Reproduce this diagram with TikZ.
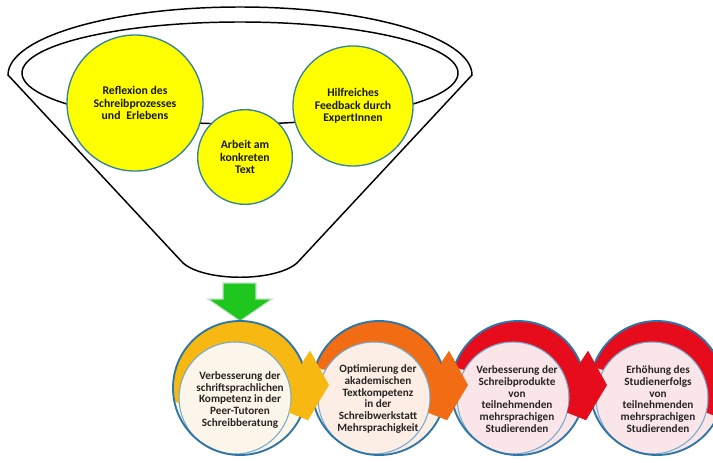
\documentclass[tikz,border=0pt]{standalone}
\usepackage{fontspec}
\setmainfont{Carlito}
\usetikzlibrary{calc}

\definecolor{yelfill}{RGB}{255,255,0}
\definecolor{tealline}{RGB}{49,132,155}
\definecolor{ringline}{RGB}{46,117,168}
\definecolor{creamline}{RGB}{120,170,205}
\definecolor{bandA}{RGB}{248,184,18}
\definecolor{bandB}{RGB}{241,108,18}
\definecolor{bandC}{RGB}{230,12,28}
\definecolor{creamA}{RGB}{252,246,234}
\definecolor{creamB}{RGB}{252,238,228}
\definecolor{creamC}{RGB}{250,230,232}
\definecolor{arrowgreen}{RGB}{30,198,30}
\definecolor{arrowedge}{RGB}{200,225,200}
\definecolor{topink}{RGB}{25,25,20}
\definecolor{stepink}{RGB}{40,36,36}

\tikzset{
  rim/.style={draw=black, line width=1.1pt},
  topcirc/.style={circle, fill=yelfill, draw=tealline, line width=1pt, inner sep=0pt,
    align=center, text=topink, font=\bfseries\fontsize{8.8}{9.6}\selectfont},
  steptext/.style={align=center, text=stepink, inner sep=0pt,
    font=\bfseries\fontsize{8.4}{8.8}\selectfont},
  ringedge/.style={draw=ringline, line width=1.4pt},
  creamedge/.style={draw=creamline, line width=0.8pt},
}

% one step of the process: cream disc, coloured band over its top, outlines
% #1 centre x, #2 band colour, #3 disc colour, #4 start angle of band, #5 start angle on inner disc
\newcommand{\ringstep}[5]{%
  \fill[#3] (#1,74) circle[radius=67];
  \fill[#2] ($(#1,74)+(#4:67)$) arc[start angle=#4, end angle=22, radius=67]
    -- (#1+70,111) -- (#1+89,77) -- (#1+68,42)
    -- ($(#1-5,64)+(-15:56)$) arc[start angle=-15, end angle=#5, radius=56] -- cycle;
  \draw[creamedge] (#1-5,64) circle[radius=56];
  \draw[ringedge] (#1,74) circle[radius=67];
}
% arrow head of a step, drawn over the neighbouring disc
\newcommand{\ringhead}[2]{%
  \fill[#2] (#1+62.1,99.1) -- (#1+70,111) -- (#1+89,77) -- (#1+68,42)
    -- (#1+49,49.5) -- cycle;
}

\begin{document}
\begin{tikzpicture}[x=0.75pt,y=0.75pt]
\useasboundingbox (0,0) rectangle (713,462);
\clip (0,0) rectangle (713,462);
\fill[white] (0,0) rectangle (713,462);

% funnel
\draw[rim] (472,387) arc[start angle=0, end angle=180, x radius=232, y radius=68]
  -- (183,199) .. controls (205,180) and (275,180) .. (297,199) -- cycle;
\draw[rim] (240,389) ellipse[x radius=218, y radius=51];

% inputs inside the funnel
\node[topcirc, minimum size=102pt] (refl) at (135,359) {Reflexion des\\Schreibprozesses\\und\enspace Erlebens};
\node[topcirc, minimum size=71pt] (arbeit) at (245,305) {Arbeit am\\konkreten\\Text};
\node[topcirc, minimum size=90pt] (feedback) at (353,356) {Hilfreiches\\Feedback durch\\ExpertInnen};

% arrow out of the funnel
\draw[fill=arrowgreen, draw=arrowedge, line width=0.8pt]
  (223,179) -- (256,179) -- (256,163) -- (272,163) -- (240,141) -- (208,163) -- (223,163) -- cycle;

% process steps
\ringstep{240}{bandA}{creamA}{192}{185}
\ringstep{379}{bandB}{creamB}{162}{150}
\ringstep{518}{bandC}{creamC}{162}{150}
\ringstep{657}{bandC}{creamC}{162}{150}
\ringhead{240}{bandA}
\ringhead{379}{bandB}
\ringhead{518}{bandC}

\node[steptext] (s1) at (240,62) {Verbesserung der\\schriftsprachlichen\\Kompetenz in der\\Peer-Tutoren\\Schreibberatung};
\node[steptext] (s2) at (378,63) {Optimierung der\\akademischen\\Textkompetenz\\in der\\Schreibwerkstatt\\Mehrsprachigkeit};
\node[steptext] (s3) at (517,63) {Verbesserung der\\Schreibprodukte\\von\\teilnehmenden\\mehrsprachigen\\Studierenden};
\node[steptext] (s4) at (658,63) {Erhöhung des\\Studienerfolgs\\von\\teilnehmenden\\mehrsprachigen\\Studierenden};
\end{tikzpicture}
\end{document}
